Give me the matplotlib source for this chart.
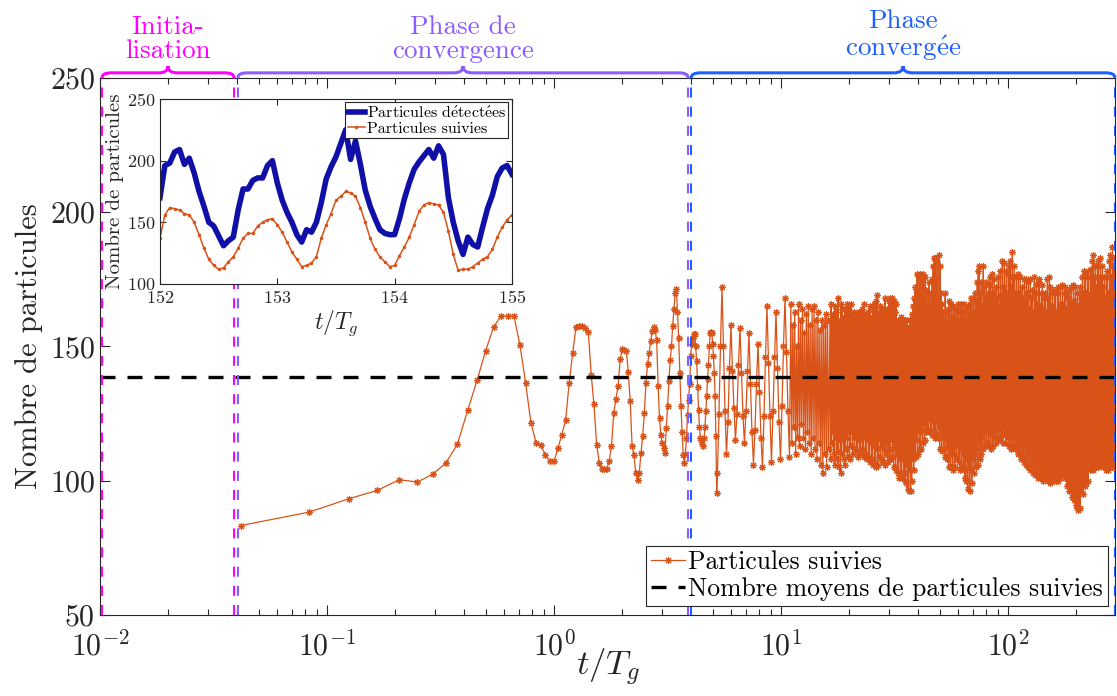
import numpy as np
import matplotlib
matplotlib.use("Agg")
import matplotlib.pyplot as plt
from matplotlib.path import Path
from matplotlib.patches import PathPatch

plt.rcParams['font.family'] = ['cmr10', 'DejaVu Serif']
plt.rcParams['mathtext.fontset'] = 'cm'
plt.rcParams['axes.formatter.use_mathtext'] = True

DT = 1 / 24          # one frame, in t/T_g
T_END = 296.0        # last frame
X_MIN = 0.01
GREY = '#262626'
ORANGE = '#D95319'
DARK_BLUE = '#1010A8'
E_ACUTE = r'$\mathrm{\acute{e}}$'

# particules suivies, frame by frame (t = k/24, k = 1..126)
n_early = [83.3, 88.3, 93.3, 96.4, 100.4, 99.5, 102.4, 106.5, 113.5, 126.2,
           137.4, 148.4, 157.2, 161.3, 161.3, 161.3, 150.4, 136.3, 121.5, 114.2,
           113.2, 109.7, 107.2, 107.2, 112.2, 117.2, 122.5, 136.4, 147.4, 157.3,
           157.8, 157.5, 156.8, 155.3, 139.5, 128.4, 113.4, 106.6, 104.5, 104.2,
           104.5, 107.2, 112.8, 125.3, 130.5, 135.4, 145.4, 149.1, 148.8, 148.3,
           140.4, 129.6, 112.8, 109.7, 102.9, 100.4, 102.9, 110.3, 116.5, 125.3,
           136.5, 143.3, 147.5, 152.0, 155.8, 157.3, 156.1, 152.3, 135.4, 123.4,
           117.0, 114.0, 112.2, 110.3, 119.7, 128.0, 137.0, 145.0, 150.0, 157.6,
           164.0, 170.0, 171.5, 163.0, 153.2, 140.0, 128.0, 118.0, 109.7, 106.6,
           110.0, 116.0, 124.6, 130.0, 136.0, 146.4, 151.0, 153.2, 154.5, 154.5,
           150.0, 144.5, 135.0, 126.5, 120.0, 116.0, 115.3, 113.5, 112.8, 116.0,
           120.0, 126.0, 131.4, 138.0, 143.0, 150.0, 155.1, 155.5, 155.1, 151.0,
           146.4, 140.0, 131.4, 116.5, 95.4, 103.0]

# 5.3 < t/T_g < 11: six readings per oscillation (rise, rise, peak, fall, fall, trough)
n_mid = [125, 150, 172, 150, 126, 110,
         122, 142, 158, 141, 127, 115,
         125, 143, 157, 140, 124, 114,
         126, 141, 155, 136, 118, 106,
         119, 136, 151, 133, 116, 105,
         124, 146, 165, 144, 124, 107,
         126, 146, 163, 142, 122, 108,
         128, 150, 168, 148, 126, 109]

# 11 < t/T_g < 16: highs and lows, one pair every two pixel columns
n_high_trans = [166, 158, 163, 150, 166, 160, 164, 155, 162, 165,
                158, 164, 165, 160, 163, 156, 160, 158, 162, 160]
n_low_trans = [114, 120, 110, 116, 113, 121, 116, 112, 118, 114,
               110, 116, 112, 108, 114, 106, 103, 110, 105, 112]

# 16 < t/T_g < 296: highs and lows, one pair per pixel column of the band
n_high_dense = [
    160, 166, 158, 162, 157, 165, 163, 159, 168, 158, 160, 166, 164, 157, 161,
    164, 158, 166, 160, 165, 157, 166, 161, 156, 163, 160, 155, 162, 158, 163,
    163, 157, 164, 160, 166, 158, 162, 156, 163, 160, 165, 158, 161, 164, 166,
    160, 167, 169, 161, 163, 165, 158, 164, 160, 163, 168, 162, 164, 159, 167,
    168, 161, 168, 160, 167, 163, 166, 158, 160, 155, 158, 161, 154, 160, 157,
    160, 155, 160, 157, 153, 160, 156, 162, 165, 168, 172, 163, 177, 170, 176,
    177, 168, 175, 177, 166, 176, 171, 164, 170, 174, 165, 170, 175, 180, 183,
    183, 175, 182, 168, 184, 180, 170, 166, 163, 160, 170, 163, 158, 164, 167,
    160, 166, 161, 165, 158, 164, 160, 163, 166, 159, 164, 166, 160, 163, 166,
    160, 164, 158, 165, 162, 166, 168, 162, 168, 163, 170, 167, 174, 178, 180,
    170, 174, 165, 180, 172, 168, 174, 166, 170, 173, 176, 168, 177, 170, 175,
    166, 172, 168, 176, 165, 178, 169, 182, 172, 181, 170, 178, 168, 177, 180,
    182, 172, 185, 176, 180, 170, 176, 168, 177, 170, 176, 166, 172, 168, 175,
    166, 175, 170, 174, 164, 175, 168, 171, 163, 176, 170, 173, 166, 174, 175,
    165, 170, 173, 164, 168, 170, 163, 175, 168, 176, 172, 165, 170, 163, 171,
    170, 163, 170, 172, 164, 172, 166, 173, 165, 170, 172, 164, 170, 168, 171,
    166, 172, 164, 173, 167, 172, 163, 170, 165, 170, 172, 168, 176, 170, 178,
    177, 170, 176, 178, 169, 176, 179, 182, 184, 176, 180, 172, 180, 182, 175,
    183, 176, 180, 172, 176, 168, 176, 178, 170, 182, 184, 176, 187, 180, 183]
n_low_dense = [
    108, 114, 118, 110, 106, 116, 108, 111, 105, 115, 103, 110, 117, 108, 106,
    112, 116, 109, 118, 108, 113, 119, 110, 116, 112, 117, 111, 109, 115, 110,
    111, 117, 112, 109, 116, 110, 108, 115, 109, 107, 114, 108, 106, 113, 107,
    105, 112, 106, 109, 115, 108, 113, 107, 112, 106, 110, 114, 107, 112, 108,
    108, 115, 109, 105, 112, 104, 110, 103, 101, 108, 102, 101, 109, 103, 100,
    99, 106, 97, 96, 104, 96, 100, 108, 104, 110, 109, 115, 110, 118, 112,
    112, 119, 114, 121, 115, 118, 123, 119, 118, 123, 119, 117, 122, 118, 116,
    117, 122, 116, 120, 112, 118, 111, 116, 112, 109, 115, 108, 113, 105, 110,
    105, 112, 104, 110, 105, 113, 108, 114, 107, 104, 112, 105, 110, 104, 101,
    100, 108, 97, 105, 96, 104, 99, 108, 103, 110, 105, 112, 106, 114, 108,
    110, 116, 112, 118, 113, 119, 114, 120, 113, 117, 112, 118, 113, 119, 116,
    114, 120, 115, 119, 116, 121, 117, 114, 120, 117, 114, 119, 116, 113, 118,
    112, 117, 113, 119, 112, 116, 113, 110, 116, 110, 108, 114, 109, 107, 113,
    106, 112, 105, 110, 104, 111, 106, 103, 109, 102, 108, 103, 101, 108, 102,
    101, 107, 100, 106, 101, 108, 102, 100, 106, 99, 105, 100, 107, 100, 104,
    100, 106, 100, 108, 101, 109, 102, 110, 103, 101, 108, 98, 104, 96, 101,
    96, 94, 101, 93, 98, 91, 90, 89, 97, 90, 96, 102, 95, 104, 98,
    99, 106, 100, 108, 104, 110, 105, 104, 111, 105, 112, 106, 105, 110, 106,
    107, 112, 105, 110, 106, 104, 111, 104, 109, 105, 112, 105, 110, 105, 106]
n_mean = 138.7

# inset, 152 <= t/T_g <= 155
inset_t0 = 152
n_detect = [170, 196, 198, 207, 209, 197, 202, 190, 175, 163,
            150, 147, 139, 131, 135, 138, 160, 177, 177, 184,
            186, 186, 196, 200, 182, 168, 158, 150, 140, 134,
            144, 142, 150, 166, 185, 195, 203, 214, 225, 201,
            216, 197, 176, 163, 153, 144, 141, 140, 140, 153,
            169, 182, 193, 199, 204, 209, 202, 212, 205, 170,
            150, 135, 124, 138, 132, 130, 146, 161, 172, 187,
            194, 196, 189]
n_follow = [137, 156, 162, 161, 160, 157, 156, 150, 140, 129,
            120, 115, 112, 113, 118, 122, 129, 137, 141, 141,
            147, 150, 152, 153, 148, 142, 134, 126, 120, 114,
            115, 117, 122, 137, 148, 157, 168, 171, 175, 174,
            171, 162, 150, 137, 128, 122, 118, 114, 115, 123,
            130, 138, 148, 159, 164, 166, 165, 164, 158, 143,
            124, 111, 112, 112, 114, 117, 120, 122, 128, 138,
            146, 152, 156]

# phases
phase_labels = ["Initia-\nlisation", "Phase de\nconvergence",
                "Phase\nconverg" + E_ACUTE + "e"]
phase_start = [0.0102, 0.0405, 4.02]
phase_end = [0.039, 3.9, 296.0]
phase_colors = ['#FF00FF', '#8C5CFF', '#1F5EFF']


def frac(x):
    # x position -> axes fraction on the log axis
    return (np.log10(x) - np.log10(X_MIN)) / (np.log10(T_END) - np.log10(X_MIN))


def brace(ax, x0, x1, color):
    h1, h2, d = 0.0095, 0.022, 0.009
    xm = (x0 + x1) / 2
    verts = [(x0, 1), (x0, 1 + h1), (x0 + d, 1 + h1),
             (xm - d, 1 + h1),
             (xm, 1 + h1), (xm, 1 + h2),
             (xm, 1 + h1), (xm + d, 1 + h1),
             (x1 - d, 1 + h1),
             (x1, 1 + h1), (x1, 1)]
    codes = [Path.MOVETO, Path.CURVE3, Path.CURVE3, Path.LINETO,
             Path.CURVE3, Path.CURVE3, Path.CURVE3, Path.CURVE3,
             Path.LINETO, Path.CURVE3, Path.CURVE3]
    patch = PathPatch(Path(verts, codes), fc='none', ec=color, lw=2.2,
                      transform=ax.transAxes, clip_on=False, zorder=5)
    ax.add_patch(patch)


fig = plt.figure(figsize=(11.17, 6.96), dpi=100)
ax = fig.add_axes([0.0895, 0.1164, 0.9087, 0.7716])

t_early = np.arange(1, len(n_early) + 1) * DT
t_mid = np.geomspace(5.33, 10.9, len(n_mid))
n_trans = np.column_stack([n_high_trans, n_low_trans]).ravel()
t_trans = np.geomspace(11.05, 16.2, len(n_trans))
n_dense = np.column_stack([n_high_dense, n_low_dense]).ravel()
t_dense = np.geomspace(16.44, T_END, len(n_dense))
t_all = np.concatenate([t_early, t_mid, t_trans, t_dense])
n_all = np.concatenate([n_early, n_mid, n_trans, n_dense])

ax.plot(t_all, n_all, color=ORANGE, lw=0.9, marker=(8, 2, 0), ms=5,
        mew=0.8, label='Particules suivies', zorder=2)
ax.plot([X_MIN, T_END], [n_mean, n_mean], color='black', lw=2.4,
        dashes=(4.5, 3.6), label='Nombre moyens de particules suivies', zorder=3)

for x0, x1, c, lab in zip(phase_start, phase_end, phase_colors, phase_labels):
    for xv in (x0, x1):
        ax.axvline(xv, color=c, lw=1.5, dashes=(4.8, 4.4), zorder=4)
    brace(ax, frac(x0), frac(x1), c)
    ax.text((frac(x0) + frac(x1)) / 2, 1.027, lab, color=c, fontsize=19.5,
            ha='center', va='bottom', linespacing=1.05, transform=ax.transAxes)

ax.set_xscale('log')
ax.set_xlim(X_MIN, T_END)
ax.set_ylim(50, 250)
ax.set_yticks([50, 100, 150, 200, 250])
ax.set_xticks([0.01, 0.1, 1, 10, 100])
ax.tick_params(which='both', direction='in', top=True, right=True,
               colors=GREY, labelsize=21.5, width=0.8)
ax.tick_params(which='major', length=7.5)
ax.tick_params(which='minor', length=4)
ax.tick_params(axis='x', pad=11)
for s in ax.spines.values():
    s.set_color(GREY)
    s.set_linewidth(0.8)
ax.set_ylabel('Nombre de particules', fontsize=22, color=GREY)
ax.set_xlabel('$t/T_g$', fontsize=25, color=GREY)
ax.yaxis.set_label_coords(-0.056, 0.5)
ax.xaxis.set_label_coords(0.5, -0.06)

leg = ax.legend(loc='lower right', bbox_to_anchor=(0.993, 0.017),
                borderaxespad=0, fontsize=18.5, numpoints=1, handlelength=1.35,
                handletextpad=0.1, borderpad=0.2, labelspacing=0.1,
                fancybox=False, framealpha=1)
leg.get_frame().set_edgecolor(GREY)
leg.get_frame().set_linewidth(0.8)

# inset
axi = fig.add_axes([0.1432, 0.592, 0.3151, 0.2658])
t_in = inset_t0 + np.arange(len(n_detect)) * DT
axi.plot(t_in, n_detect, color=DARK_BLUE, lw=4,
         label='Particules d' + E_ACUTE + 'tect' + E_ACUTE + 'es')
axi.plot(t_in, n_follow, color=ORANGE, lw=1.1, marker='.', ms=3,
         label='Particules suivies')
axi.set_xlim(152, 155)
axi.set_ylim(100, 250)
axi.set_xticks([152, 153, 154, 155])
axi.set_yticks([100, 150, 200, 250])
axi.tick_params(direction='in', top=True, right=True, colors=GREY,
                labelsize=13, length=4, width=0.8)
for s in axi.spines.values():
    s.set_color(GREY)
    s.set_linewidth(0.8)
axi.set_ylabel('Nombre de particules', fontsize=15, color=GREY, labelpad=2)
axi.set_xlabel('$t/T_g$', fontsize=17, color=GREY, labelpad=2)
leg2 = axi.legend(loc='upper right', bbox_to_anchor=(0.99, 0.985),
                  borderaxespad=0, fontsize=11.5, numpoints=1, handlelength=1.1,
                  handletextpad=0.1, borderpad=0.15, labelspacing=0.1,
                  fancybox=False, framealpha=1)
leg2.get_frame().set_edgecolor(GREY)
leg2.get_frame().set_linewidth(0.8)

fig.savefig('out.png', dpi=100)
